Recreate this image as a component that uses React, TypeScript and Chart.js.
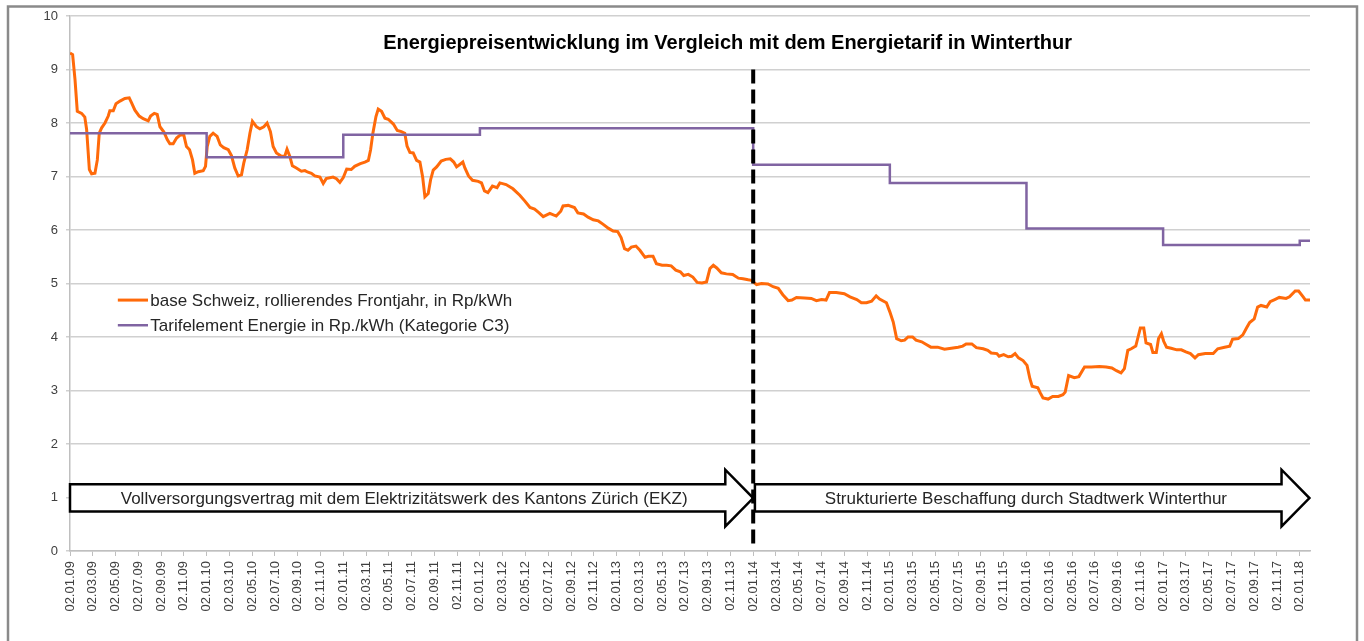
import React, { useEffect, useRef } from 'react';
import { Chart, registerables } from 'chart.js';

Chart.register(...registerables);

const TITLE = 'Energiepreisentwicklung im Vergleich mit dem Energietarif in Winterthur';
const SERIES_ORANGE = 'base Schweiz, rollierendes Frontjahr, in Rp/kWh';
const SERIES_PURPLE = 'Tarifelement Energie in Rp./kWh (Kategorie C3)';
const ARROW_LEFT_TEXT = 'Vollversorgungsvertrag mit dem Elektrizitätswerk des Kantons Zürich (EKZ)';
const ARROW_RIGHT_TEXT = 'Strukturierte Beschaffung durch Stadtwerk Winterthur';

// x tick labels, one every two months (x unit: months since 02.01.09)
const TICK_LABELS = [
  '02.01.09', '02.03.09', '02.05.09', '02.07.09', '02.09.09', '02.11.09',
  '02.01.10', '02.03.10', '02.05.10', '02.07.10', '02.09.10', '02.11.10',
  '02.01.11', '02.03.11', '02.05.11', '02.07.11', '02.09.11', '02.11.11',
  '02.01.12', '02.03.12', '02.05.12', '02.07.12', '02.09.12', '02.11.12',
  '02.01.13', '02.03.13', '02.05.13', '02.07.13', '02.09.13', '02.11.13',
  '02.01.14', '02.03.14', '02.05.14', '02.07.14', '02.09.14', '02.11.14',
  '02.01.15', '02.03.15', '02.05.15', '02.07.15', '02.09.15', '02.11.15',
  '02.01.16', '02.03.16', '02.05.16', '02.07.16', '02.09.16', '02.11.16',
  '02.01.17', '02.03.17', '02.05.17', '02.07.17', '02.09.17', '02.11.17',
  '02.01.18',
];
const TICK_MONTHS = TICK_LABELS.map((_, i) => i * 2);
const X_MAX = 108.9;

// base Schweiz (orange): months since 02.01.09 and value in Rp/kWh
const ORANGE_MONTHS = [
  0, 0.23, 0.44, 0.64, 1.02, 1.3, 1.46, 1.7, 1.9, 2.19, 2.4, 2.57, 2.78, 3.07, 3.36, 3.5, 3.8, 4.04, 4.39, 4.82,
  5.2, 5.4, 5.7, 6.08, 6.43, 6.87, 7.08, 7.4, 7.66, 7.9, 8.25, 8.54, 8.77, 9.06, 9.36, 9.7, 10.0, 10.23, 10.5, 10.76,
  10.96, 11.26, 11.7, 11.9, 12.05, 12.28, 12.57, 12.92, 13.2, 13.5, 13.9, 14.18, 14.47, 14.77, 15.06, 15.26, 15.56, 15.8, 16.02, 16.37,
  16.67, 17.02, 17.31, 17.6, 17.84, 18.13, 18.57, 18.86, 19.06, 19.3, 19.53, 19.88, 20.32, 20.63, 20.9, 21.2, 21.5, 21.95, 22.24, 22.5,
  23.1, 23.4, 23.7, 24.0, 24.3, 24.7, 25.0, 25.5, 25.9, 26.2, 26.4, 26.6, 26.87, 27.07, 27.36, 27.66, 27.95, 28.4, 28.74, 29.1,
  29.4, 29.6, 29.85, 30.14, 30.44, 30.73, 30.97, 31.17, 31.46, 31.67, 31.9, 32.2, 32.6, 33.0, 33.4, 33.7, 33.95, 34.2, 34.5, 34.68,
  35.0, 35.35, 35.85, 36.14, 36.4, 36.7, 37.1, 37.5, 37.75, 38.3, 38.9, 39.5, 39.95, 40.4, 40.8, 41.2, 41.56, 42.14, 42.7, 43.1,
  43.3, 43.75, 44.3, 44.6, 45.1, 45.5, 45.95, 46.4, 46.8, 47.3, 47.7, 48.1, 48.4, 48.7, 49.0, 49.3, 49.7, 50.05, 50.5, 50.8,
  51.2, 51.5, 52.0, 52.4, 52.8, 53.2, 53.6, 53.9, 54.3, 54.7, 55.08, 55.5, 55.9, 56.2, 56.5, 56.8, 57.2, 57.65, 58.2, 58.7,
  59.1, 59.56, 59.85, 60.3, 60.73, 61.3, 61.75, 62.2, 62.6, 63.07, 63.4, 63.8, 64.5, 65.1, 65.55, 66.0, 66.4, 66.7, 67.3, 68.0,
  68.5, 69.1, 69.5, 69.95, 70.4, 70.8, 71.1, 71.7, 72.0, 72.3, 72.6, 73.0, 73.3, 73.6, 74.0, 74.3, 74.8, 75.2, 75.6, 76.2,
  76.8, 77.4, 78.0, 78.4, 78.7, 79.2, 79.6, 80.2, 80.6, 80.9, 81.4, 81.6, 82.0, 82.4, 82.7, 83.0, 83.3, 83.7, 84.05, 84.3,
  84.5, 85.0, 85.2, 85.45, 85.9, 86.3, 86.8, 87.2, 87.4, 87.7, 88.2, 88.6, 89.1, 89.7, 90.4, 91.0, 91.5, 91.9, 92.3, 92.6,
  92.9, 93.2, 93.6, 93.8, 94.0, 94.3, 94.5, 94.9, 95.1, 95.4, 95.6, 95.85, 96.05, 96.3, 96.7, 97.2, 97.6, 98.0, 98.4, 98.8,
  99.1, 99.7, 100.4, 100.8, 101.4, 101.85, 102.1, 102.6, 103.0, 103.3, 103.6, 104.0, 104.3, 104.6, 105.1, 105.4, 105.8, 106.2, 106.8, 107.1,
  107.6, 107.9, 108.3, 108.5, 108.9,
];
const ORANGE_VALUES = [
  9.31, 9.28, 8.81, 8.22, 8.18, 8.11, 7.88, 7.13, 7.05, 7.06, 7.31, 7.81, 7.91, 8.0, 8.13, 8.23, 8.23, 8.36, 8.41, 8.46,
  8.47, 8.38, 8.24, 8.13, 8.08, 8.04, 8.13, 8.18, 8.16, 7.93, 7.83, 7.69, 7.61, 7.61, 7.72, 7.78, 7.77, 7.56, 7.5, 7.31,
  7.06, 7.09, 7.11, 7.19, 7.56, 7.75, 7.81, 7.75, 7.59, 7.54, 7.5, 7.39, 7.16, 7.01, 7.03, 7.25, 7.5, 7.81, 8.03, 7.93,
  7.89, 7.93, 8.0, 7.84, 7.56, 7.44, 7.38, 7.38, 7.51, 7.38, 7.2, 7.16, 7.1, 7.11, 7.08, 7.06, 7.01, 6.99, 6.87, 6.96,
  6.99, 6.96, 6.89, 6.98, 7.14, 7.13, 7.19, 7.24, 7.27, 7.3, 7.5, 7.81, 8.12, 8.26, 8.22, 8.09, 8.07, 7.98, 7.86, 7.84,
  7.81, 7.57, 7.45, 7.44, 7.3, 7.27, 6.99, 6.62, 6.68, 6.94, 7.12, 7.18, 7.29, 7.32, 7.33, 7.27, 7.18, 7.22, 7.27, 7.16,
  7.01, 6.93, 6.91, 6.88, 6.73, 6.7, 6.82, 6.79, 6.88, 6.85, 6.77, 6.65, 6.54, 6.42, 6.39, 6.32, 6.25, 6.31, 6.26, 6.35,
  6.45, 6.46, 6.42, 6.32, 6.3, 6.24, 6.19, 6.17, 6.11, 6.03, 5.98, 5.97, 5.86, 5.65, 5.62, 5.68, 5.7, 5.62, 5.49, 5.51,
  5.51, 5.37, 5.34, 5.34, 5.33, 5.25, 5.22, 5.15, 5.17, 5.12, 5.02, 5.01, 5.03, 5.28, 5.34, 5.29, 5.2, 5.18, 5.17, 5.1,
  5.09, 5.07, 5.06, 4.98, 5.0, 4.99, 4.94, 4.91, 4.79, 4.68, 4.69, 4.74, 4.73, 4.72, 4.68, 4.7, 4.69, 4.83, 4.83, 4.81,
  4.75, 4.7, 4.64, 4.64, 4.67, 4.77, 4.71, 4.64, 4.47, 4.28, 3.97, 3.93, 3.94, 4.0, 4.0, 3.94, 3.91, 3.86, 3.81, 3.81,
  3.77, 3.79, 3.81, 3.83, 3.87, 3.87, 3.8, 3.78, 3.75, 3.7, 3.69, 3.64, 3.67, 3.63, 3.64, 3.69, 3.61, 3.56, 3.47, 3.22,
  3.08, 3.05, 2.96, 2.86, 2.84, 2.89, 2.89, 2.92, 2.97, 3.28, 3.24, 3.26, 3.44, 3.44, 3.45, 3.44, 3.42, 3.37, 3.33, 3.41,
  3.75, 3.78, 3.83, 4.0, 4.17, 4.17, 3.89, 3.86, 3.71, 3.71, 3.97, 4.06, 3.92, 3.81, 3.79, 3.76, 3.76, 3.72, 3.69, 3.61,
  3.67, 3.69, 3.69, 3.78, 3.81, 3.83, 3.96, 3.97, 4.04, 4.16, 4.27, 4.34, 4.56, 4.59, 4.56, 4.66, 4.7, 4.74, 4.72, 4.75,
  4.86, 4.86, 4.75, 4.69, 4.69,
];

// Tarifelement Energie (purple, stepped): start month of each level and its value
const TARIFF_MONTHS = [0, 12, 24, 36, 60, 72, 84, 96, 108, 108.9];
const TARIFF_VALUES = [7.81, 7.36, 7.78, 7.9, 7.22, 6.88, 6.03, 5.72, 5.8, 5.8];

const SWITCH_MONTH = 60; // 02.01.14

const ORANGE = '#ff6a0a';
const PURPLE = '#8064a2';
const FONT = '"Liberation Sans", Arial, sans-serif';

function drawArrow(ctx: CanvasRenderingContext2D, x0: number, xBase: number, xTip: number,
  yBodyTop: number, yBodyBot: number, yHeadTop: number, yHeadBot: number, yMid: number) {
  ctx.beginPath();
  ctx.moveTo(x0, yBodyTop);
  ctx.lineTo(xBase, yBodyTop);
  ctx.lineTo(xBase, yHeadTop);
  ctx.lineTo(xTip, yMid);
  ctx.lineTo(xBase, yHeadBot);
  ctx.lineTo(xBase, yBodyBot);
  ctx.lineTo(x0, yBodyBot);
  ctx.closePath();
  ctx.fillStyle = '#ffffff';
  ctx.fill();
  ctx.lineWidth = 2.5;
  ctx.strokeStyle = '#000000';
  ctx.lineJoin = 'miter';
  ctx.stroke();
}

const decorPlugin = {
  id: 'decor',
  beforeDraw(chart: any) {
    const { ctx, width, height } = chart;
    ctx.save();
    ctx.fillStyle = '#ffffff';
    ctx.fillRect(0, 0, width, height);
    ctx.strokeStyle = '#8a8a8a';
    ctx.lineWidth = 2.5;
    ctx.strokeRect(8, 6.5, 1349, height + 30);
    ctx.restore();
  },
  afterDatasetsDraw(chart: any) {
    const { ctx } = chart;
    const x = chart.scales.x;
    const y = chart.scales.y;
    ctx.save();

    // arrows
    const yBT = y.getPixelForValue(1.25);
    const yBB = y.getPixelForValue(0.74);
    const yHT = y.getPixelForValue(1.52);
    const yHB = y.getPixelForValue(0.46);
    const yM = y.getPixelForValue(0.99);
    drawArrow(ctx, x.getPixelForValue(0), x.getPixelForValue(57.55), x.getPixelForValue(60.0), yBT, yBB, yHT, yHB, yM);
    drawArrow(ctx, x.getPixelForValue(60.15), x.getPixelForValue(106.4), x.getPixelForValue(108.85), yBT, yBB, yHT, yHB, yM);

    ctx.fillStyle = '#262626';
    ctx.font = `17px ${FONT}`;
    ctx.textAlign = 'center';
    ctx.textBaseline = 'middle';
    ctx.fillText(ARROW_LEFT_TEXT, x.getPixelForValue(29.35), yM + 1);
    ctx.fillText(ARROW_RIGHT_TEXT, x.getPixelForValue(83.95), yM + 1);

    // dashed separator
    ctx.beginPath();
    ctx.setLineDash([14, 6]);
    ctx.lineWidth = 4;
    ctx.strokeStyle = '#000000';
    const xs = x.getPixelForValue(SWITCH_MONTH);
    ctx.moveTo(xs, y.getPixelForValue(9.0));
    ctx.lineTo(xs, y.getPixelForValue(0.07));
    ctx.stroke();
    ctx.setLineDash([]);

    // title
    ctx.fillStyle = '#000000';
    ctx.font = `bold 20px ${FONT}`;
    ctx.textAlign = 'center';
    ctx.fillText(TITLE, x.getPixelForValue(57.75), y.getPixelForValue(9.49));

    // legend
    const legend = [
      { label: SERIES_ORANGE, color: ORANGE, width: 3, v: 4.69 },
      { label: SERIES_PURPLE, color: PURPLE, width: 2.5, v: 4.22 },
    ];
    ctx.font = `17px ${FONT}`;
    ctx.textAlign = 'left';
    for (const item of legend) {
      const ly = y.getPixelForValue(item.v);
      ctx.beginPath();
      ctx.strokeStyle = item.color;
      ctx.lineWidth = item.width;
      ctx.moveTo(x.getPixelForValue(4.2), ly);
      ctx.lineTo(x.getPixelForValue(6.85), ly);
      ctx.stroke();
      ctx.fillStyle = '#262626';
      ctx.fillText(item.label, x.getPixelForValue(7.05), ly + 1);
    }
    ctx.restore();
  },
};

export default function App() {
  const canvasRef = useRef<HTMLCanvasElement | null>(null);

  useEffect(() => {
    const canvas = canvasRef.current;
    if (!canvas) return;
    const orangeData = ORANGE_MONTHS.map((m, i) => ({ x: m, y: ORANGE_VALUES[i] }));
    const tariffData = TARIFF_MONTHS.map((m, i) => ({ x: m, y: TARIFF_VALUES[i] }));

    const chart = new Chart(canvas, {
      type: 'line',
      data: {
        datasets: [
          {
            label: SERIES_PURPLE,
            data: tariffData,
            borderColor: PURPLE,
            borderWidth: 2.5,
            pointRadius: 0,
            stepped: true,
            fill: false,
          },
          {
            label: SERIES_ORANGE,
            data: orangeData,
            borderColor: ORANGE,
            borderWidth: 3,
            pointRadius: 0,
            tension: 0,
            fill: false,
          },
        ],
      },
      options: {
        responsive: false,
        animation: false,
        devicePixelRatio: 1,
        layout: { padding: { left: 0, right: 54, top: 16, bottom: 0 } },
        plugins: {
          legend: { display: false },
          title: { display: false },
          tooltip: { enabled: false },
        },
        scales: {
          x: {
            type: 'linear',
            min: 0,
            max: X_MAX,
            afterBuildTicks: (scale: any) => {
              scale.ticks = TICK_MONTHS.map((v) => ({ value: v }));
            },
            afterFit: (scale: any) => {
              scale.height = 90;
            },
            ticks: {
              autoSkip: false,
              minRotation: 90,
              maxRotation: 90,
              padding: 5,
              color: '#404040',
              font: { family: FONT, size: 13 },
              callback: (_v: any, i: number) => TICK_LABELS[i],
            },
            grid: {
              drawOnChartArea: false,
              drawTicks: true,
              tickLength: 5,
              color: '#bfbfbf',
            },
            border: { display: true, color: '#bfbfbf', width: 1.5 },
          },
          y: {
            min: 0,
            max: 10,
            afterFit: (scale: any) => {
              scale.width = 70;
            },
            ticks: {
              stepSize: 1,
              padding: 8,
              color: '#404040',
              font: { family: FONT, size: 13 },
            },
            grid: {
              color: '#d0d0d0',
              lineWidth: 1.5,
              tickLength: 4,
            },
            border: { display: true, color: '#bfbfbf', width: 1.5 },
          },
        },
      },
      plugins: [decorPlugin],
    });
    return () => chart.destroy();
  }, []);

  return (
    <div style={{ position: 'fixed', left: 0, top: 0, width: 1364, height: 641, background: '#fff' }}>
      <canvas ref={canvasRef} width={1364} height={641} style={{ display: 'block' }} />
    </div>
  );
}
